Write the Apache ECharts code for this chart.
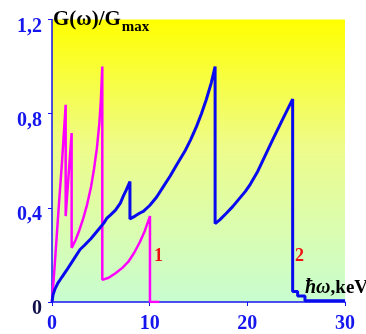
<!DOCTYPE html>
<html>
<head>
<meta charset="utf-8">
<script src="https://cdn.jsdelivr.net/npm/echarts@6/dist/echarts.min.js"></script>
<style>
  html, body { margin: 0; padding: 0; background: #fff; }
  #chart1 { width: 366px; height: 334px; }
</style>
</head>
<body>
<div id="chart1"></div>
<script>
// curve 1 (magenta)
var curve1X = [0, 0.3, 0.7, 1.0, 1.40, 1.40, 2.01, 2.01, 2.4, 2.8, 3.2, 3.6, 4.0, 4.3, 4.6, 4.85, 5.0, 5.15,
    5.15, 5.8, 6.5, 7.2, 7.8, 8.4, 9.0, 9.5, 10.03, 10.03, 11.0];
var curve1Y = [0, 0.17, 0.41, 0.58, 0.838, 0.365, 0.718, 0.23, 0.262, 0.305, 0.355, 0.415, 0.49, 0.565, 0.655, 0.76, 0.855, 1.0,
    0.094, 0.103, 0.122, 0.145, 0.17, 0.208, 0.255, 0.302, 0.365, 0, 0];

// curve 2 (blue)
var curve2X = [0, 0.1, 0.3, 0.6, 1.0, 1.5, 2.2, 2.87, 3.3, 4.0, 4.7, 5.3, 5.6, 6.0, 6.5, 7.0, 7.3, 7.6, 7.98,
    7.98, 8.5, 9.0, 9.35, 10.0, 10.7, 11.4, 12.1, 12.8, 13.6, 14.2, 14.8, 15.3, 15.8, 16.3, 16.7,
    16.7, 17.2, 17.8, 18.5, 19.2, 19.8, 20.3, 21.0, 21.8, 22.6, 23.6, 24.64,
    24.64, 25.15, 25.15, 25.9, 25.9, 30];
var curve2Y = [0, 0.03, 0.055, 0.08, 0.105, 0.135, 0.18, 0.223, 0.24, 0.27, 0.305, 0.335, 0.355, 0.37, 0.39, 0.42, 0.45, 0.475, 0.512,
    0.353, 0.365, 0.378, 0.385, 0.41, 0.445, 0.49, 0.535, 0.585, 0.64, 0.69, 0.746, 0.8, 0.86, 0.93, 1.0,
    0.333, 0.35, 0.375, 0.405, 0.44, 0.47, 0.50, 0.55, 0.62, 0.69, 0.775, 0.862,
    0.045, 0.045, 0.025, 0.025, 0.005, 0.005];

var xTicks = [0, 10, 20, 30];
var yTicks = ['0', '0,4', '0,8', '1,2'];

function pairs(xs, ys) {
    return xs.map(function (x, i) { return [x, ys[i]]; });
}

var chartDom = document.getElementById('chart1');
var myChart = echarts.init(chartDom);
var option;

var serif = '"Liberation Serif", "DejaVu Serif", serif';
var axisBlue = '#1515ee';

option = {
    animation: false,
    backgroundColor: '#ffffff',
    grid: {
        left: 52,
        top: 19.5,
        right: 21,
        bottom: 31,
        show: true,
        borderWidth: 0,
        backgroundColor: new echarts.graphic.LinearGradient(0, 0, 0, 1, [
            {offset: 0, color: '#ffff00'},
            {offset: 0.45, color: '#eefc8a'},
            {offset: 1, color: '#c8fdd0'}
        ])
    },
    xAxis: {
        type: 'value',
        min: 0,
        max: 30,
        interval: 10,
        axisLine: {show: true, lineStyle: {color: axisBlue, width: 1.5}},
        axisTick: {show: true, length: 4, lineStyle: {color: axisBlue}},
        splitLine: {show: false},
        axisLabel: {
            margin: 12,
            color: axisBlue,
            fontFamily: serif,
            fontWeight: 'bold',
            fontSize: 20,
            formatter: function (v) {
                var i = xTicks.indexOf(v);
                return i >= 0 ? String(xTicks[i]) : '';
            }
        }
    },
    yAxis: {
        type: 'value',
        min: 0,
        max: 1.2,
        interval: 0.4,
        axisLine: {show: true, lineStyle: {color: axisBlue, width: 1.5}},
        axisTick: {show: true, length: 4, lineStyle: {color: axisBlue}},
        splitLine: {show: false},
        axisLabel: {
            margin: 10,
            padding: [14, 0, 0, 0],
            color: axisBlue,
            fontFamily: serif,
            fontWeight: 'bold',
            fontSize: 20,
            formatter: function (v) {
                var i = Math.round(v / 0.4);
                if (i === 0) return '{z|0}';
                return yTicks[i] || '';
            },
            rich: {
                z: {color: '#10104a', fontFamily: serif, fontWeight: 'bold', fontSize: 20}
            }
        }
    },
    graphic: [
        {
            type: 'text',
            left: 53,
            top: 9,
            style: {
                text: '{a|G(ω)/G}{b|max}',
                rich: {
                    a: {fontFamily: serif, fontWeight: 'bold', fontSize: 21, fill: '#000', verticalAlign: 'bottom'},
                    b: {fontFamily: serif, fontWeight: 'bold', fontSize: 15, fill: '#000', verticalAlign: 'bottom', padding: [0, 0, -5, 1]}
                }
            }
        },
        {
            type: 'text',
            left: 305,
            top: 278,
            style: {
                text: '{i|ħω}{n|,keV}',
                rich: {
                    i: {fontFamily: serif, fontWeight: 'bold', fontStyle: 'italic', fontSize: 20, fill: '#000'},
                    n: {fontFamily: serif, fontWeight: 'bold', fontSize: 19, fill: '#000'}
                }
            }
        },
        {
            type: 'text',
            left: 154,
            top: 247,
            style: {text: '1', fontFamily: serif, fontWeight: 'bold', fontSize: 18, fill: '#ee1111'}
        },
        {
            type: 'text',
            left: 295,
            top: 247,
            style: {text: '2', fontFamily: serif, fontWeight: 'bold', fontSize: 18, fill: '#ee1111'}
        }
    ],
    series: [
        {
            name: '1',
            type: 'line',
            showSymbol: false,
            data: pairs(curve1X, curve1Y),
            lineStyle: {color: '#ff00ff', width: 2.5},
            z: 3
        },
        {
            name: '2',
            type: 'line',
            showSymbol: false,
            data: pairs(curve2X, curve2Y),
            lineStyle: {color: '#0a0aee', width: 3},
            z: 4
        }
    ]
};

option && myChart.setOption(option);
</script>
</body>
</html>
